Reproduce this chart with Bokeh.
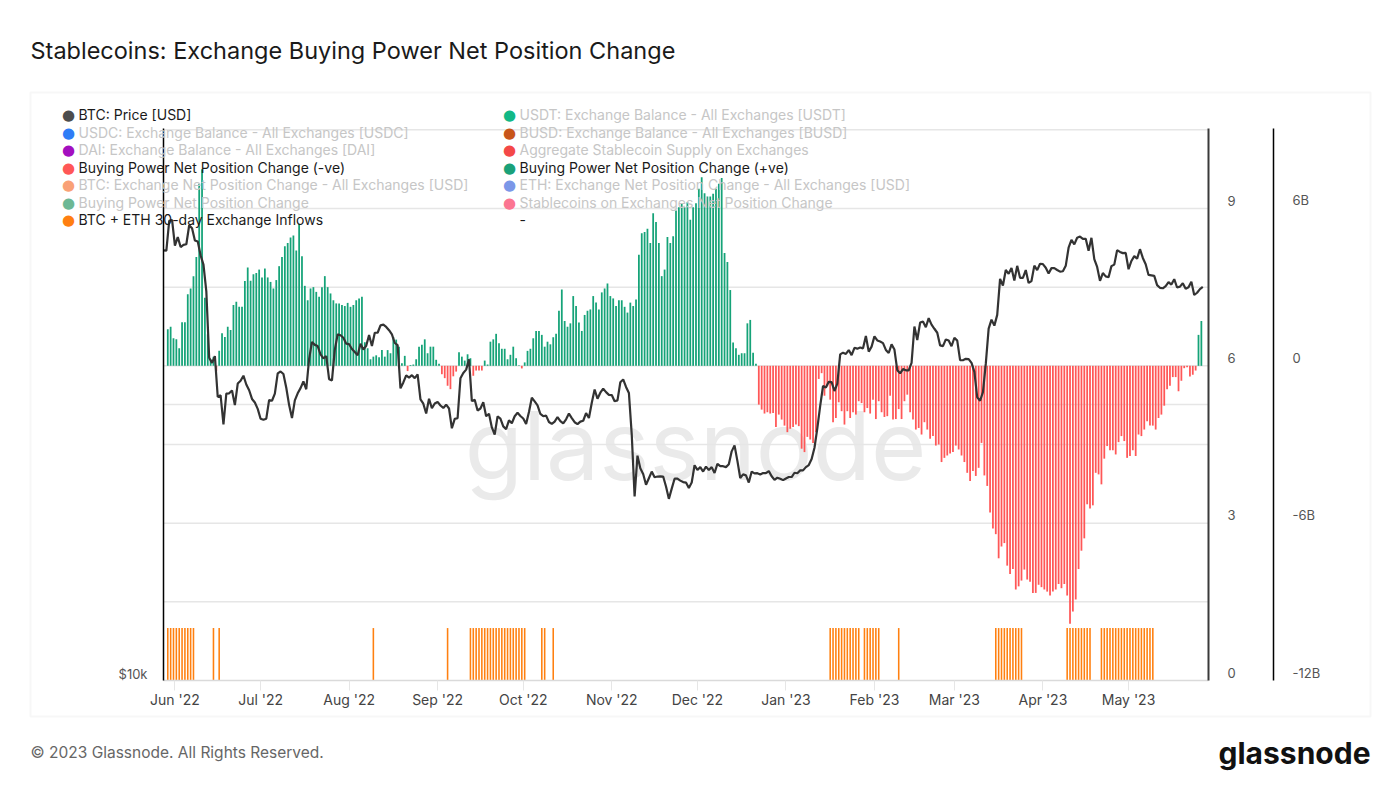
import math
import pandas as pd
from bokeh.plotting import figure
from bokeh.models import (Range1d, LinearAxis, LogAxis, DatetimeAxis, LogScale, FixedTicker,
                          MonthsTicker, DatetimeTickFormatter, Label, BoxAnnotation, ColumnDataSource)
from bokeh.embed import file_html
from bokeh.resources import INLINE

# ---------------- data ----------------
start_date = "2022-05-28"
end_date = "2023-05-29"

# BTC daily price [USD], 2022-05-28 .. 2023-05-27
price_usd = [
    29450, 29440, 31720, 31790,
    29800, 30450, 29700, 29860, 29910, 31370, 31130, 30200, 30110, 29090,
    28420, 26570, 22490, 22200, 22580, 20380, 20470, 19020, 20550, 20570,
    20720, 19970, 21080, 21230, 21500, 21030, 20730, 20280, 20100, 19780,
    19300, 19250, 19300, 20230, 20190, 20550, 21630, 21730, 21590, 20860,
    19970, 19330, 20210, 20570, 20840, 21190, 20780, 22430, 23400, 23230,
    23160, 22680, 22460, 22580, 21310, 21250, 22950, 23850, 23800, 23650, 23300,
    23270, 22990, 22820, 22630, 23290, 22960, 23175, 23810, 23160, 23950,
    23950, 24400, 24440, 24300, 24100, 23850, 23340, 23210, 20830, 21140,
    21520, 21400, 21530, 21370, 21570, 20260, 20040, 19550, 20290, 19810, 20050,
    20130, 19950, 19830, 19990, 19800, 18840, 19290, 19320, 21360, 21650,
    21830, 22400, 20170, 20240, 19700, 19800, 20110, 19420, 19540, 18880,
    18550, 19410, 19300, 18930, 18800, 19220, 19080, 19420, 19590, 19430,
    19310, 19050, 19630, 20340, 20160, 19960, 19530, 19420, 19450, 19140,
    19050, 19160, 19380, 19180, 19070, 19270, 19550, 19330, 19130, 19040,
    19160, 19200, 19570, 19330, 20090, 20770, 20290, 20600, 20810, 20630, 20490,
    20480, 20160, 20210, 21150, 21300, 20900, 20590, 18540, 15880, 17590,
    17040, 16800, 16350, 16620, 16900, 16660, 16690, 16700, 16690, 16280,
    15780, 16190, 16600, 16600, 16520, 16460, 16440, 16220, 16440, 17170,
    16970, 17090, 16900, 17110, 16970, 17090, 16840, 17230, 17130, 17130,
    17090, 17210, 17780, 18050, 17360, 16630, 16780, 16740, 16440, 16900,
    16820, 16830, 16780, 16840, 16830, 16920, 16700, 16550, 16640, 16600, 16540,
    16610, 16670, 16670, 16850, 16830, 16950, 16950, 17090, 17180, 17440,
    17940, 18850, 19930, 20950, 20870, 21170, 21160, 20690, 21080, 22680,
    22780, 22710, 22930, 22640, 23060, 23010, 23080, 23030, 23750, 22840, 23130,
    23730, 23490, 23430, 23330, 22940, 22760, 23260, 22960, 21800, 21630,
    21860, 21790, 21790, 22200, 24330, 23520, 24570, 24630, 24280, 24840,
    24440, 24190, 23950, 23200, 23160, 23550, 23490, 23150,
    23650, 23480, 22360, 22350, 22430, 22410, 22200, 21710, 20360, 20190,
    20630, 22160, 24200, 24750, 24380, 25050, 27420, 26970, 28040, 27770,
    28180, 27310, 28330, 27490, 27490, 28030, 27140, 27270, 28350, 28030, 28480,
    28450, 28200, 27790, 28170, 28170, 28040, 27920, 27950, 28330, 29650,
    30240, 29900, 30400, 30490, 30320, 30320, 29430, 30400, 28820, 28250,
    27280, 27820, 27590, 27530, 28310, 28420, 29470, 29340, 29250, 29270,
    28090, 28680, 29030, 28850, 29540, 28900, 28450, 27690, 27660, 27630,
    26990, 26810, 26780, 26930, 27200, 27030, 27400, 26830, 26890, 27120,
    26750, 26850, 27230, 26330, 26480, 26720, 26870,
]

# Buying Power Net Position Change [billion USD], daily 2022-05-29 .. 2023-05-26
net_change_bn = [
    1.39, 1.49, 1.05, 1.01, 0.67, 1.66, 1.66, 2.73, 2.95, 3.42,
    4.15, 6.94, 7.5, 2.6, 1.2, 0.25, 0.35, -0.2, 0.57, 1.24,
    1.1, 1.49, 1.37, 2.32, 2.44, 2.25, 2.25, 3.23, 3.75, 3.24,
    3.49, 3.54, 3.67, 3.37, 3.71, 3.37, 3.2, 2.95, 3.27, 3.8,
    4.15, 4.56, 4.68, 4.89, 4.97, 4.4, 5.42, 4.18, 3.05, 2.5,
    2.95, 3.0, 2.82, 2.63, 3.0, 3.42, 3.0, 2.76, 2.5, 2.38,
    2.38, 2.32, 2.28, 2.4, 2.25, 2.32, 2.5, 2.57, 2.63, 0.9,
    0.67, 0.25, 0.35, 0.4, 0.33, 0.6, 0.35, 0.6, 0.48, 1.1,
    1.0, 0.73, 0.1, 0.38, -0.2, 0.03, 0.05, 0.25, 0.73, 0.8,
    1.01, 0.48, 0.73, 0.73, 0.23, 0.08, -0.32, -0.47, -0.76, -0.89,
    -0.4, -0.22, 0.52, 0.35, 0.2, 0.44, 0.29, -0.38, -0.18, -0.18,
    -0.18, 0.2, 0.05, 0.92, 1.01, 1.22, 0.86, 0.65, 0.65, 0.25,
    0.42, 0.73, 0.29, 0.02, -0.1, 0.13, 0.57, 0.65, 1.05, 1.33,
    1.33, 1.18, 0.73, 0.92, 0.82, 1.09, 1.22, 2.1, 2.91, 1.71,
    1.49, 1.62, 2.66, 2.28, 1.65, 1.33, 1.94, 2.1, 2.15, 2.66,
    2.41, 2.15, 2.8, 2.95, 3.14, 2.66, 2.57, 2.28, 2.5, 2.5,
    2.25, 2.03, 2.41, 2.28, 2.53,
    4.24, 5.06, 5.1, 5.23, 4.68, 5.82, 5.48, 4.68, 3.42, 3.67,
    4.91, 4.68, 4.94, 5.92, 6.05, 6.18, 6.05, 6.24, 5.57, 6.05,
    6.2, 6.75, 7.19, 6.58, 6.46, 6.46, 6.56, 6.75, 6.94, 7.16,
    4.3, 3.96, 2.89, 0.89, 0.67, 0.42, 0.48, 0.48, 1.62, 1.75,
    0.5, 0.08,
    -1.48, -1.67, -1.82, -1.77, -1.82, -1.8, -2.33, -1.86, -2.05, -2.28,
    -2.53, -2.4, -2.33, -2.24, -2.3, -3.16, -3.29, -2.71, -2.81, -2.94,
    -2.53, -0.5, -0.28, -1.14, -0.78, -1.29, -2.15, -1.99, -1.39, -1.73,
    -2.24, -1.73, -1.99, -1.77, -1.86, -1.35, -1.42, -1.77, -1.61, -1.82,
    -1.29, -2.03, -1.35, -1.77, -1.95, -1.92, -1.14, -2.05, -2.03, -1.65,
    -2.03, -1.35, -1.1, -1.77, -2.05, -2.43, -2.37, -2.62, -2.15, -2.43,
    -2.78, -2.68, -3.04, -3.0, -3.67, -3.51, -3.42, -3.34, -3.29, -3.04,
    -3.19, -3.42, -3.67, -4.08,
    -4.39, -4.01, -4.2, -3.89, -2.94, -4.18, -4.58, -5.59, -6.2, -6.42,
    -7.34, -6.89, -6.76, -7.62, -7.94, -7.75, -8.53, -8.41, -8.19, -7.77,
    -8.15, -8.23, -8.66, -8.66, -8.35, -8.44, -8.53, -8.61, -8.76, -8.61,
    -8.53, -8.32, -8.48, -8.32, -8.76, -9.84, -9.37, -8.91, -7.75, -7.05,
    -6.58, -5.28, -5.44, -5.32, -4.08, -4.14, -4.52, -3.54, -3.06, -3.22,
    -3.22, -3.38, -2.91, -2.68, -2.87, -3.51, -3.44, -3.22, -3.44,
    -2.62, -2.68, -2.43, -2.11, -2.28, -2.28, -2.43, -1.99, -1.86, -1.52,
    -0.89, -0.76, -0.43, -0.43, -0.97, -0.57, -0.09, -0.05, -0.41,
    -0.34, -0.18, 1.18, 1.71,
]

# BTC + ETH 30-day Exchange Inflows signal (value 1 on the 0-9 axis)
inflow_alert_periods = [
    ("2022-05-29", "2022-06-07"), ("2022-06-14", "2022-06-14"), ("2022-06-16", "2022-06-16"),
    ("2022-08-09", "2022-08-09"), ("2022-09-04", "2022-09-04"), ("2022-09-12", "2022-10-01"),
    ("2022-10-07", "2022-10-08"), ("2022-10-11", "2022-10-11"),
    ("2023-01-16", "2023-01-26"), ("2023-01-28", "2023-02-02"), ("2023-02-09", "2023-02-09"),
    ("2023-03-15", "2023-03-24"), ("2023-04-09", "2023-04-17"), ("2023-04-21", "2023-05-09"),
]
inflow_signal_value = 1

price_axis = (10000, 40000)
price_ticks = [10000]
price_tick_labels = ["$10k"]
price_grid = [20000]
signal_axis = (0, 10.526)
signal_ticks = [0, 3, 6, 9]
bn_axis = (-12, 9.05)
bn_ticks = [-12, -6, 0, 6]
bn_tick_labels = ["-12B", "-6B", "0", "6B"]
bn_grid = [-9, -6, -3, 0, 3, 6, 9]

legend_left = [
    ("BTC: Price [USD]", "#4d4d4d", True),
    ("USDC: Exchange Balance - All Exchanges [USDC]", "#2f7cf6", False),
    ("DAI: Exchange Balance - All Exchanges [DAI]", "#a30fbf", False),
    ("Buying Power Net Position Change (-ve)", "#ff5757", True),
    ("BTC: Exchange Net Position Change - All Exchanges [USD]", "#f9a176", False),
    ("Buying Power Net Position Change", "#6db894", False),
    ("BTC + ETH 30-day Exchange Inflows", "#ff7f11", True),
]
legend_right = [
    ("USDT: Exchange Balance - All Exchanges [USDT]", "#12b886", False),
    ("BUSD: Exchange Balance - All Exchanges [BUSD]", "#c8561a", False),
    ("Aggregate Stablecoin Supply on Exchanges", "#f44848", False),
    ("Buying Power Net Position Change (+ve)", "#1aa179", True),
    ("ETH: Exchange Net Position Change - All Exchanges [USD]", "#7b97e8", False),
    ("Stablecoins on Exchanges Net Position Change", "#fb7591", False),
    ("-", None, True),
]

# ---------------- layout & styles ----------------
W, H = 1398, 786                      # canvas (frame covers whole canvas)
PX_L, PX_R, PX_T, PX_B = 163, 1208, 128, 680   # plotting area inside the canvas
PX_AXIS2 = 1273                       # second right axis line
FONT = "Inter"
GREEN = "#15a378"
RED = "#ff5757"
ORANGE = "#ff8010"
GRID = "#e6e6e6"
DAY_MS = 86400000

# ---------------- ranges ----------------
start_ms = pd.Timestamp(start_date).value / 1e6
end_ms = pd.Timestamp(end_date).value / 1e6
ms_per_px = (end_ms - start_ms) / (PX_R - PX_L)
x_lo = start_ms - PX_L * ms_per_px
x_hi = end_ms + (W - PX_R) * ms_per_px


def extend(v_bottom, v_top):
    per_px = (v_top - v_bottom) / (PX_B - PX_T)
    return v_bottom - (H - PX_B) * per_px, v_top + PX_T * per_px


bn_lo, bn_hi = extend(bn_axis[0] * 1e9, bn_axis[1] * 1e9)
sig_lo, sig_hi = extend(*signal_axis)
lp_lo, lp_hi = extend(math.log10(price_axis[0]), math.log10(price_axis[1]))

# ---------------- sources ----------------
d0 = pd.Timestamp(start_date)
price_dates = pd.date_range(d0, periods=len(price_usd), freq="D")
bar_dates = pd.date_range(d0 + pd.Timedelta(days=1), periods=len(net_change_bn), freq="D") + pd.Timedelta(hours=12)

pos = ColumnDataSource(dict(x=[d for d, v in zip(bar_dates, net_change_bn) if v >= 0],
                            top=[v * 1e9 for v in net_change_bn if v >= 0]))
neg = ColumnDataSource(dict(x=[d for d, v in zip(bar_dates, net_change_bn) if v < 0],
                            top=[v * 1e9 for v in net_change_bn if v < 0]))
flag_dates = []
for a, b in inflow_alert_periods:
    flag_dates.extend(list(pd.date_range(a, b, freq="D") + pd.Timedelta(hours=12)))
flags = ColumnDataSource(dict(x=flag_dates, top=[inflow_signal_value] * len(flag_dates)))
price_src = ColumnDataSource(dict(x=price_dates, y=price_usd))

# ---------------- figure ----------------
p = figure(width=W, height=H, min_border=0, title=None,
           x_axis_type="datetime", x_axis_location=None, y_axis_location=None,
           x_range=Range1d(x_lo, x_hi), y_range=Range1d(bn_lo, bn_hi),
           output_backend="svg", toolbar_location=None)
p.outline_line_color = None
p.background_fill_color = "white"
p.border_fill_color = "white"
p.xgrid.visible = False
p.ygrid.visible = False
p.extra_y_ranges = {"price": Range1d(10 ** lp_lo, 10 ** lp_hi),
                    "signal": Range1d(sig_lo, sig_hi)}
p.extra_y_scales = {"price": LogScale()}

# container frame and watermark (underlay)
p.add_layout(BoxAnnotation(left=30, right=1370, top=92, bottom=716,
                           left_units="canvas", right_units="canvas",
                           top_units="canvas", bottom_units="canvas",
                           fill_alpha=0, line_color="#e3e3e3", line_width=2, level="underlay"))
p.add_layout(Label(x=695, y=445, x_units="canvas", y_units="canvas", text="glassnode",
                   text_align="center", text_baseline="alphabetic", text_font=FONT,
                   text_font_size="95px", text_color="#eaeaea", level="underlay"))

# gridlines
p.segment(x0=[start_ms] * len(bn_grid), x1=[end_ms] * len(bn_grid),
          y0=[v * 1e9 for v in bn_grid], y1=[v * 1e9 for v in bn_grid],
          line_color=GRID, line_width=1.5)
p.segment(x0=[start_ms] * len(price_grid), x1=[end_ms] * len(price_grid),
          y0=price_grid, y1=price_grid, y_range_name="price",
          line_color=GRID, line_width=1.5)

# glyphs
p.vbar(x="x", top="top", bottom=0, width=0.62 * DAY_MS, source=pos,
       fill_color=GREEN, line_color=None)
p.vbar(x="x", top="top", bottom=0, width=0.62 * DAY_MS, source=neg,
       fill_color=RED, line_color=None)
p.vbar(x="x", top="top", bottom=0, width=0.55 * DAY_MS, source=flags,
       fill_color=ORANGE, line_color=None, y_range_name="signal")
p.line(x="x", y="y", source=price_src, y_range_name="price", line_color="#333333",
       line_width=2.2)

# x axis
xa = DatetimeAxis(fixed_location=bn_axis[0] * 1e9, bounds=(start_ms, end_ms),
                  ticker=MonthsTicker(months=list(range(12))),
                  formatter=DatetimeTickFormatter(months="%b '%y", days="%b '%y", years="%b '%y"),
                  axis_line_color="#dadada", axis_line_width=1.5,
                  major_tick_line_color="#e6e6e6", major_tick_out=10, major_tick_in=0,
                  minor_tick_line_color=None,
                  major_label_text_font=FONT, major_label_text_font_size="14px",
                  major_label_text_color="#444444", major_label_standoff=0)
p.add_layout(xa, "below")

# left price axis (log)
la = LogAxis(y_range_name="price", fixed_location=start_ms, bounds=price_axis,
             ticker=FixedTicker(ticks=price_ticks),
             axis_line_color="black", axis_line_width=1.5,
             major_tick_line_color=None, minor_tick_line_color=None,
             major_label_text_color=None)
p.add_layout(la, "left")

# right signal axis (0..9)
ra1 = LinearAxis(y_range_name="signal", fixed_location=end_ms, bounds=signal_axis,
                 ticker=FixedTicker(ticks=signal_ticks),
                 axis_line_color="#3a3a3a", axis_line_width=2,
                 major_tick_line_color=None, minor_tick_line_color=None,
                 major_label_text_color=None)
p.add_layout(ra1, "right")

# right buying power axis
ra2 = LinearAxis(fixed_location=end_ms + (PX_AXIS2 - PX_R) * ms_per_px,
                 bounds=(bn_axis[0] * 1e9, bn_axis[1] * 1e9),
                 ticker=FixedTicker(ticks=[v * 1e9 for v in bn_ticks]),
                 axis_line_color="black", axis_line_width=1.5,
                 major_tick_line_color=None, minor_tick_line_color=None,
                 major_label_text_color=None)
p.add_layout(ra2, "right")

# axis tick labels (sit just above their tick, as in the reference)
for v, t in zip(price_ticks, price_tick_labels):
    p.add_layout(Label(x=147, x_units="canvas", y=v, y_units="data", y_range_name="price",
                       y_offset=7, text=t, text_align="right", text_baseline="middle",
                       text_font=FONT, text_font_size="13px", text_color="#555555"))
for v in signal_ticks:
    p.add_layout(Label(x=1227, x_units="canvas", y=v, y_units="data", y_range_name="signal",
                       y_offset=8, text=str(v), text_align="left", text_baseline="middle",
                       text_font=FONT, text_font_size="13px", text_color="#555555"))
for v, t in zip(bn_ticks, bn_tick_labels):
    p.add_layout(Label(x=1292, x_units="canvas", y=v * 1e9, y_units="data",
                       y_offset=8, text=t, text_align="left", text_baseline="middle",
                       text_font=FONT, text_font_size="13px", text_color="#555555"))

# title & footer
p.add_layout(Label(x=30, y=50, x_units="canvas", y_units="canvas",
                   text="Stablecoins: Exchange Buying Power Net Position Change",
                   text_baseline="middle", text_font=FONT, text_font_size="23.5px",
                   text_color="#1a1a1a"))
p.add_layout(Label(x=30, y=752, x_units="canvas", y_units="canvas",
                   text="© 2023 Glassnode. All Rights Reserved.",
                   text_baseline="middle", text_font=FONT, text_font_size="15.5px",
                   text_color="#666666"))
p.add_layout(Label(x=1370, y=752, x_units="canvas", y_units="canvas", text="glassnode",
                   text_align="right", text_baseline="middle", text_font=FONT,
                   text_font_size="30px", text_font_style="bold", text_color="#111111"))

# legend
row_y0, row_dy = 114, 17.5
for col, (dot_x, text_x) in zip([legend_left, legend_right], [(68, 78), (509, 519)]):
    for i, (name, color, active) in enumerate(col):
        y = row_y0 + i * row_dy
        if color is not None:
            p.add_layout(Label(x=dot_x, y=y + 0.5, x_units="canvas", y_units="canvas", text="●",
                               text_align="center", text_baseline="middle",
                               text_font="DejaVu Sans", text_font_size="15px",
                               text_color=color))
        p.add_layout(Label(x=text_x, y=y, x_units="canvas", y_units="canvas", text=name,
                           text_baseline="middle", text_font=FONT, text_font_size="14px",
                           text_color="#1a1a1a" if active else "#c6c6c6"))

open("out.html", "w").write(file_html(p, INLINE))
